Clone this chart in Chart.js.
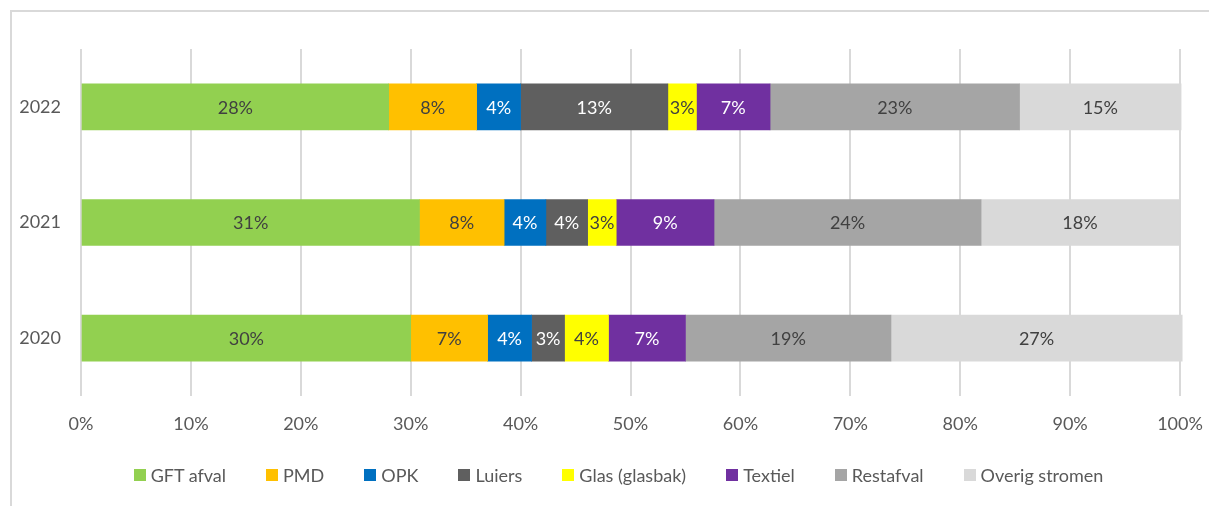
<!DOCTYPE html>
<html>
<head>
<meta charset="utf-8">
<script src="https://cdn.jsdelivr.net/npm/chart.js@4.4.1/dist/chart.umd.min.js"></script>
<style>
  html, body { margin: 0; padding: 0; background: #fff; }
  body { width: 1209px; height: 506px; position: relative; overflow: hidden; font-family: Lato, "Open Sans", sans-serif; }
  #frame { position: absolute; left: 10px; top: 10px; width: 1300px; height: 600px; border: 2px solid #d9d9d9; box-sizing: border-box; }
  #wrap { position: absolute; left: 0; top: 0; width: 1209px; height: 506px; }
  #legend { position: absolute; left: 28px; width: 1181px; top: 464px; display: flex; justify-content: center; gap: 40px; font-size: 18px; color: #595959; line-height: 22px; }
  .item { display: flex; align-items: center; white-space: nowrap; }
  .sw { width: 12px; height: 12px; margin-right: 5px; display: inline-block; }
</style>
</head>
<body>
<div id="frame"></div>
<div id="wrap"><canvas id="c" width="1209" height="506"></canvas></div>
<div id="legend"></div>
<script>
const years = ['2022', '2021', '2020'];
const seriesNames = ['GFT afval', 'PMD', 'OPK', 'Luiers', 'Glas (glasbak)', 'Textiel', 'Restafval', 'Overig stromen'];
const gft       = [28.0, 30.8, 30.0];
const pmd       = [8.0, 7.7, 7.0];
const opk       = [4.0, 3.8, 4.0];
const luiers    = [13.4, 3.8, 3.0];
const glas      = [2.6, 2.6, 4.0];
const textiel   = [6.7, 8.9, 7.0];
const restafval = [22.7, 24.3, 18.7];
const overig    = [14.7, 18.0, 26.5];
const xTicks = [0, 10, 20, 30, 40, 50, 60, 70, 80, 90, 100];

const seriesValues = [gft, pmd, opk, luiers, glas, textiel, restafval, overig];
const colors = ['#92D050', '#FFC000', '#0070C0', '#5F5F5F', '#FFFF00', '#7030A0', '#A5A5A5', '#D9D9D9'];
const labelColors = ['#404040', '#404040', '#ffffff', '#ffffff', '#404040', '#ffffff', '#404040', '#404040'];

const FONT = 'Lato, "Open Sans", sans-serif';

const datasets = seriesNames.map((n, i) => ({
  label: n,
  data: seriesValues[i],
  backgroundColor: colors[i],
  borderWidth: 0,
  barThickness: 46,
  clip: false
}));

const valueLabels = {
  id: 'valueLabels',
  afterDatasetsDraw(chart) {
    const ctx = chart.ctx;
    ctx.save();
    ctx.font = '18px ' + FONT;
    ctx.textAlign = 'center';
    ctx.textBaseline = 'middle';
    chart.data.datasets.forEach((ds, i) => {
      const meta = chart.getDatasetMeta(i);
      meta.data.forEach((bar, j) => {
        const v = ds.data[j];
        const cx = (bar.x + bar.base) / 2;
        ctx.fillStyle = labelColors[i];
        ctx.fillText(Math.round(v) + '%', cx, bar.y + 1);
      });
    });
    ctx.restore();
  }
};

new Chart(document.getElementById('c'), {
  type: 'bar',
  data: { labels: years, datasets },
  plugins: [valueLabels],
  options: {
    indexAxis: 'y',
    responsive: false,
    animation: false,
    events: [],
    layout: { padding: { top: 49, right: 29, left: 0, bottom: 0 } },
    plugins: { legend: { display: false }, tooltip: { enabled: false } },
    scales: {
      x: {
        stacked: true,
        min: 0, max: 100,
        afterBuildTicks(scale) { scale.ticks = xTicks.map(v => ({ value: v })); },
        afterFit(scale) { scale.height = 110; scale.paddingLeft = 0; scale.paddingRight = 0; },
        grid: { color: '#d9d9d9', lineWidth: 2, drawTicks: false },
        border: { display: false },
        ticks: { padding: 17, color: '#595959', font: { family: FONT, size: 18 }, callback: v => v + '%' }
      },
      y: {
        stacked: true,
        afterFit(scale) { scale.width = 81; },
        grid: { display: false, drawTicks: false },
        border: { display: false },
        ticks: { padding: 20, color: '#595959', font: { family: FONT, size: 18 } }
      }
    }
  }
});

const lg = document.getElementById('legend');
seriesNames.forEach((n, i) => {
  const it = document.createElement('div');
  it.className = 'item';
  const sw = document.createElement('span');
  sw.className = 'sw';
  sw.style.background = colors[i];
  it.appendChild(sw);
  it.appendChild(document.createTextNode(n));
  lg.appendChild(it);
});
</script>
</body>
</html>
